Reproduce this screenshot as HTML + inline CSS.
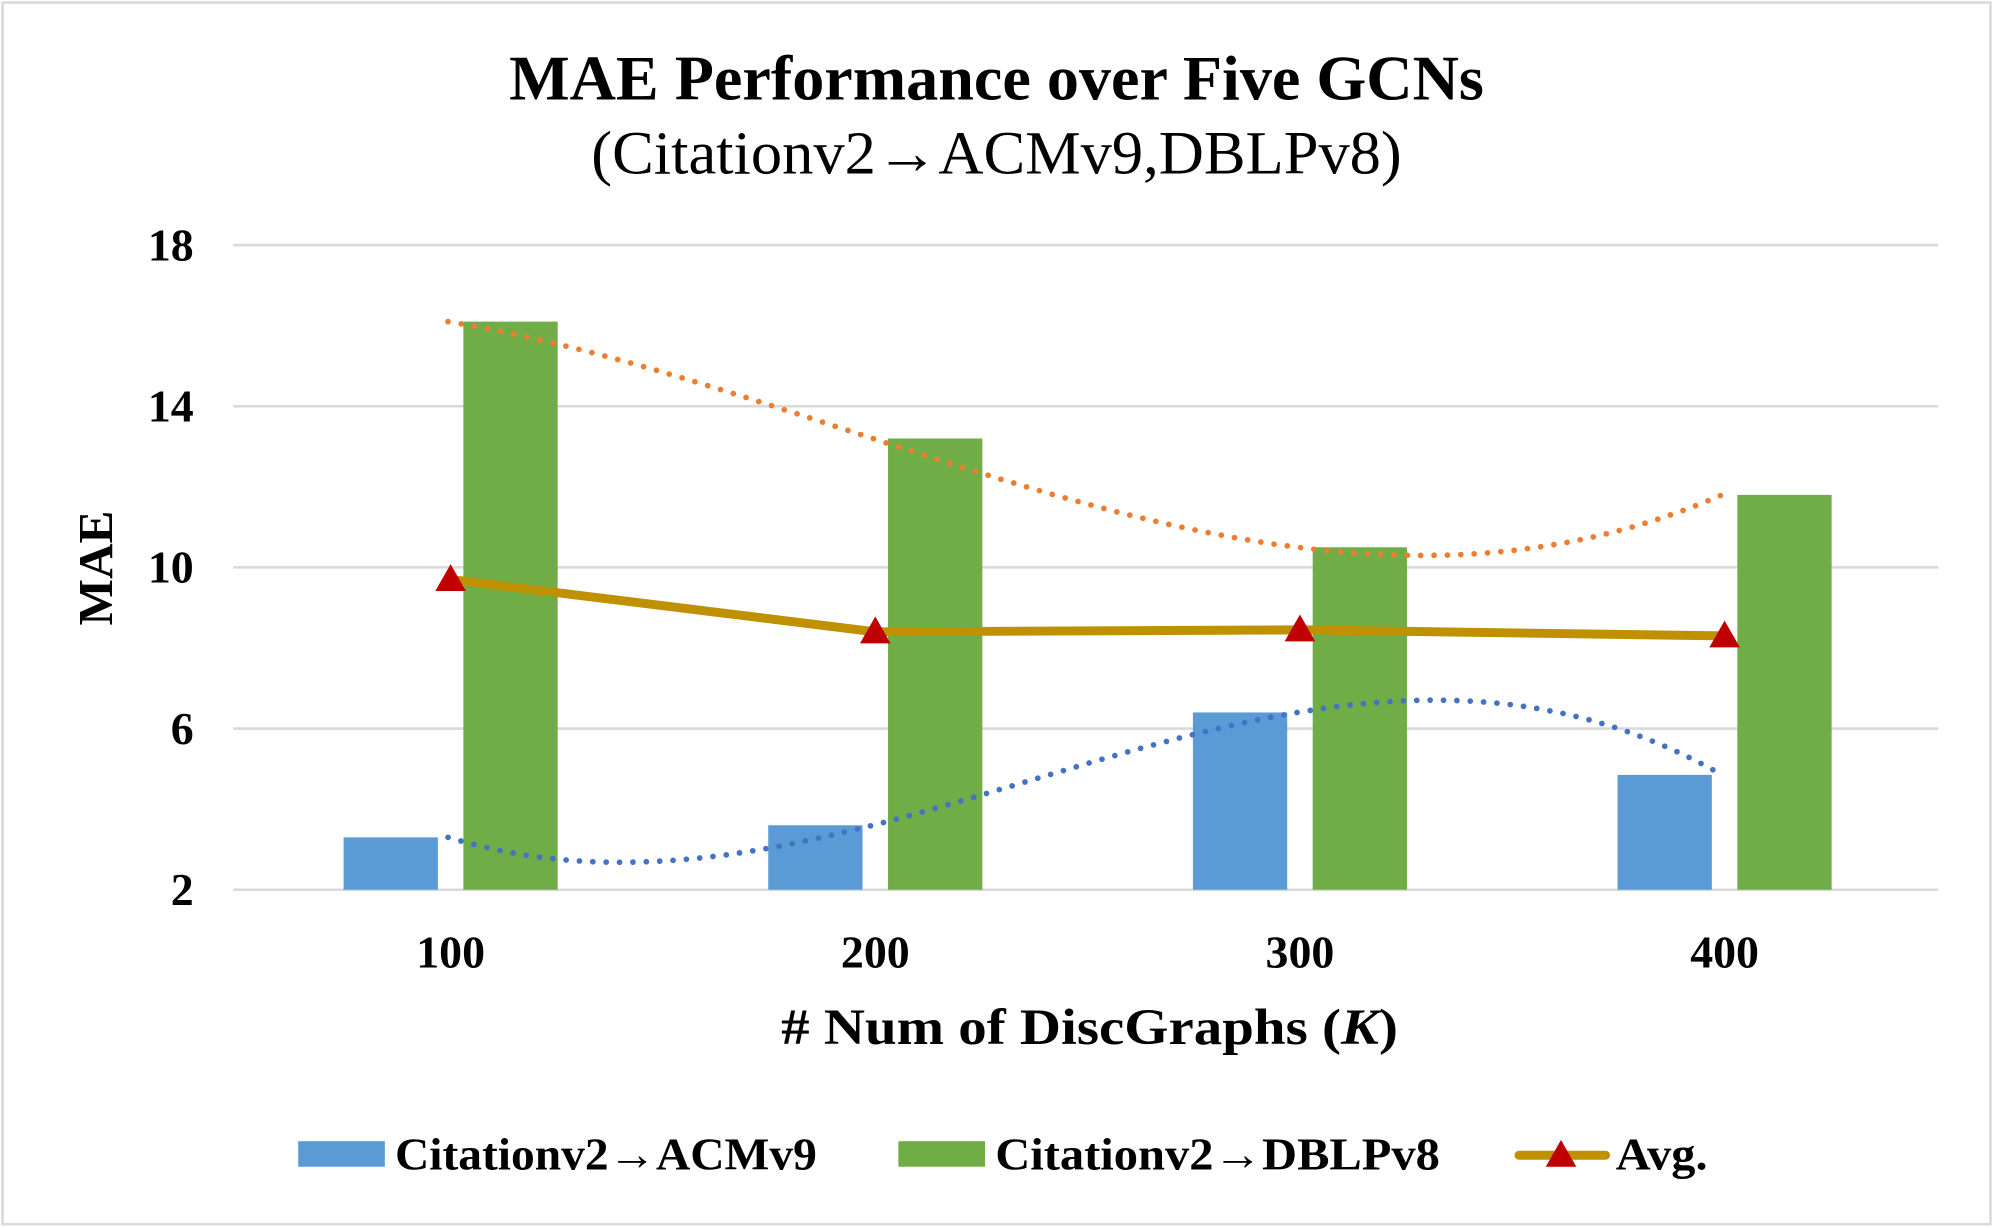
<!DOCTYPE html>
<html><head><meta charset="utf-8">
<style>
html,body{margin:0;padding:0;background:#fff;}
svg{display:block;}
text{font-family:"Liberation Serif","DejaVu Serif",serif;fill:#000;}
</style></head>
<body>
<svg id="chart" width="1993" height="1228" viewBox="0 0 1564 962" preserveAspectRatio="none" xmlns="http://www.w3.org/2000/svg">
<rect x="2" y="2" width="1560" height="957" fill="#fff" stroke="#d9d9d9" stroke-width="2"/>
<text x="782" y="78" text-anchor="middle" font-size="50" font-weight="bold" textLength="765" lengthAdjust="spacingAndGlyphs">MAE Performance over Five GCNs</text>
<text x="782" y="136" text-anchor="middle" font-size="48" textLength="636" lengthAdjust="spacingAndGlyphs">(Citationv2→ACMv9,DBLPv8)</text>
<g id="grid"></g>
<g id="bars"></g>
<g id="trends"></g>
<g id="avg"></g>
<g id="axes"></g>
<text transform="translate(88,445) rotate(-90)" text-anchor="middle" font-size="38" font-weight="bold" textLength="90" lengthAdjust="spacingAndGlyphs">MAE</text>
<text x="855" y="818" text-anchor="middle" font-size="40" font-weight="bold" textLength="484" lengthAdjust="spacingAndGlyphs"># Num of DiscGraphs (<tspan font-style="italic">K</tspan>)</text>
<g>
<rect x="234" y="894" width="68" height="20" fill="#5B9BD5"/>
<text x="310" y="916" font-size="36" font-weight="bold" textLength="331" lengthAdjust="spacingAndGlyphs">Citationv2→ACMv9</text>
<rect x="705" y="894" width="68" height="20" fill="#70AD47"/>
<text x="781" y="916" font-size="36" font-weight="bold" textLength="349" lengthAdjust="spacingAndGlyphs">Citationv2→DBLPv8</text>
<line x1="1192" y1="905" x2="1260" y2="905" stroke="#BF9000" stroke-width="7" stroke-linecap="round"/>
<polygon points="1225,893 1237,914 1213,914" fill="#C00000"/>
<text x="1268" y="916" font-size="36" font-weight="bold" textLength="72" lengthAdjust="spacingAndGlyphs">Avg.</text>
</g>
</svg>
<script>
const categories = ["100", "200", "300", "400"];
const acmValues = [3.3, 3.6, 6.4, 4.85];
const dblpValues = [16.1, 13.2, 10.5, 11.8];
const avgValues = [9.7, 8.4, 8.45, 8.3];
const yTicks = [2, 6, 10, 14, 18];

const NS = "http://www.w3.org/2000/svg";
const plotL = 183, plotR = 1516, gridR = 1521, yTop = 192, yBot = 697, yMin = 2, yMax = 18;
const bandW = (plotR - plotL) / categories.length;
function xC(i){ return plotL + bandW * (i + 0.5); }
function xT(t){ return plotL + bandW * (t - 0.5); }
function yS(v){ return yBot - (v - yMin) / (yMax - yMin) * (yBot - yTop); }
function mk(tag, attrs, parent){
  const e = document.createElementNS(NS, tag);
  for (const k in attrs) e.setAttribute(k, attrs[k]);
  parent.appendChild(e); return e;
}
const grid = document.getElementById('grid');
const axes = document.getElementById('axes');
yTicks.forEach(t => {
  const l = mk('line', {x1: plotL, x2: gridR, y1: yS(t), y2: yS(t), stroke: '#d9d9d9', 'stroke-width': 2}, grid);
  
  
  const tx = mk('text', {x: 152, y: yS(t) + 12, 'text-anchor': 'end', 'font-size': 36, 'font-weight': 'bold'}, axes);
  tx.textContent = t;
  
  
});
categories.forEach((c, i) => {
  const tx = mk('text', {x: xC(i) + 4, y: 758, 'text-anchor': 'middle', 'font-size': 36, 'font-weight': 'bold'}, axes);
  tx.textContent = c;
  
  
});
const bars = document.getElementById('bars');
categories.forEach((c, i) => {
  const b1 = mk('rect', {x: xC(i) - 80, width: 74, y: yS(acmValues[i]), height: yBot - yS(acmValues[i]), fill: '#5B9BD5'}, bars);
  
  
  const b2 = mk('rect', {x: xC(i) + 14, width: 74, y: yS(dblpValues[i]), height: yBot - yS(dblpValues[i]), fill: '#70AD47'}, bars);
  
  
});
function poly(vals, t){
  let s = 0; const n = vals.length;
  for (let i = 0; i < n; i++){
    let p = vals[i];
    for (let j = 0; j < n; j++) if (j !== i) p *= (t - (j+1)) / ((i+1) - (j+1));
    s += p;
  }
  return s;
}
function trendPath(vals){
  let d = '';
  for (let k = 0; k <= 120; k++){
    const t = 1 + 3 * k / 120;
    d += (k ? 'L' : 'M') + (xT(t) + 2).toFixed(1) + ',' + yS(poly(vals, t)).toFixed(1);
  }
  return d;
}
const trends = document.getElementById('trends');
const tr1 = mk('path', {d: trendPath(dblpValues), fill: 'none', stroke: '#ED7D31', 'stroke-width': 4.5, 'stroke-dasharray': '0 10.5', 'stroke-linecap': 'round'}, trends);


const tr2 = mk('path', {d: trendPath(acmValues), fill: 'none', stroke: '#4472C4', 'stroke-width': 4.5, 'stroke-dasharray': '0 10.5', 'stroke-linecap': 'round'}, trends);


const avg = document.getElementById('avg');
const pts = avgValues.map((v, i) => (xC(i) + 4) + ',' + yS(v)).join(' ');
const ln = mk('polyline', {points: pts, fill: 'none', stroke: '#BF9000', 'stroke-width': 7, 'stroke-linejoin': 'round'}, avg);


avgValues.forEach((v, i) => {
  const x = xC(i) + 4, y = yS(v);
  const m = mk('polygon', {points: `${x},${y-12} ${x+12},${y+9} ${x-12},${y+9}`, fill: '#C00000'}, avg);
  
  
});
</script>
</body></html>
